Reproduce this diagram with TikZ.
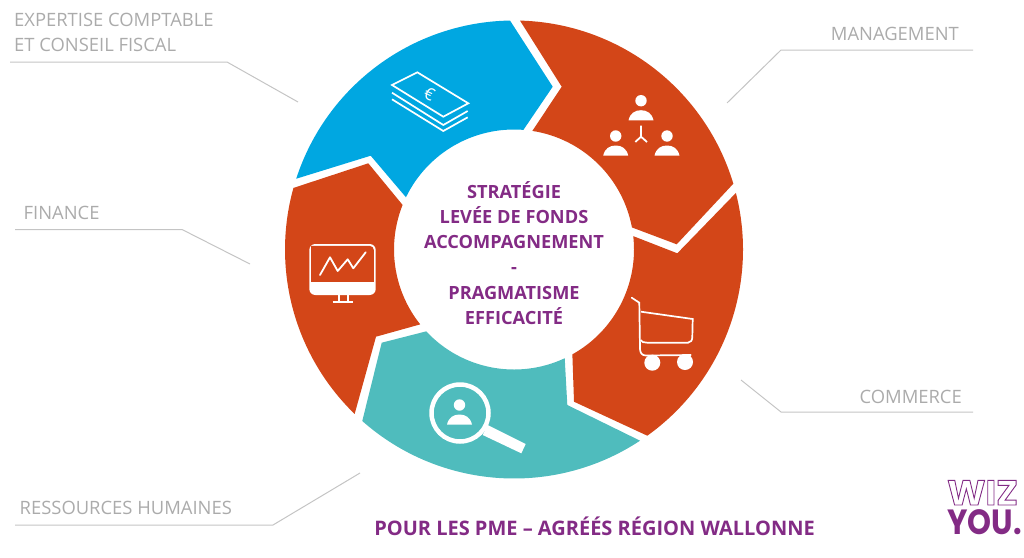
\documentclass[tikz,border=0pt]{standalone}
\usetikzlibrary{calc}
\usepackage{fontspec}
\setmainfont{Open Sans}
\newfontfamily\logofont{Poppins}
\newfontfamily\logofontn{Poppins}[FakeStretch=0.87]
\newfontfamily\logofontw{Poppins}[FakeStretch=1.04]
\definecolor{cblue}{HTML}{00A7E1}
\definecolor{corange}{HTML}{D34618}
\definecolor{cteal}{HTML}{4FBCBD}
\definecolor{cpurple}{HTML}{832B85}
\definecolor{cline}{HTML}{C4C4C4}
\definecolor{ctext}{HTML}{ABABAB}
\tikzset{
  lead/.style={draw=cline,line width=1pt},
  lab/.style={text=ctext,font=\fontsize{18.4}{25}\selectfont,inner sep=0pt,anchor=base west,align=left},
  ico/.style={draw=white,line width=1.7pt,line join=miter},
  persicon/.pic={
    \fill[white] (0,0) circle[radius=5.7pt];
    \fill[white] (-12.5,19.7) .. controls (-11,12.5) and (-6,9.5) .. (0,9.5) .. controls (6,9.5) and (11,12.5) .. (12.5,19.7) -- cycle;
  }
}
\newcommand{\Ro}{229pt}
\newcommand{\Ri}{120pt}
\begin{document}
\begin{tikzpicture}[x=1pt,y=-1pt]
\useasboundingbox (0,0) rectangle (1024,557);
\coordinate (c) at (514,249.5);
% segments
\fill[cblue] ($(c)+(91:\Ro)$) arc[start angle=91,end angle=162,radius=\Ro] -- (370.7,155.7) -- ($(c)+(154.2:\Ri)$) arc[start angle=154.2,end angle=85.5,radius=\Ri] -- (552.7,86.7) -- cycle;
\fill[corange] ($(c)+(88.5:\Ro)$) arc[start angle=88.5,end angle=16.7,radius=\Ro] -- (676.7,244.3) -- ($(c)+(10.6:\Ri)$) arc[start angle=10.6,end angle=81.2,radius=\Ri] -- (561.7,86.7) -- cycle;
\fill[corange] ($(c)+(14.3:\Ro)$) arc[start angle=14.3,end angle=-54.4,radius=\Ro] -- (574,401.7) -- ($(c)+(-60.9:\Ri)$) arc[start angle=-60.9,end angle=6.4,radius=\Ri] -- (677.3,253.3) -- cycle;
\fill[cteal] ($(c)+(-56.6:\Ro)$) arc[start angle=-56.6,end angle=-131.5,radius=\Ro] -- (381.7,342.7) -- ($(c)+(-137:\Ri)$) arc[start angle=-137,end angle=-65,radius=\Ri] -- (567.3,405) -- cycle;
\fill[corange] ($(c)+(164.4:\Ro)$) arc[start angle=164.4,end angle=225.9,radius=\Ro] -- (376,336.7) -- ($(c)+(218.6:\Ri)$) arc[start angle=218.6,end angle=158.2,radius=\Ri] -- (368.3,163.3) -- cycle;
% leaders
\coordinate (e1) at (10,62); \coordinate (e2) at (227,62); \coordinate (e3) at (298,102);
\coordinate (f1) at (15,229.5); \coordinate (f2) at (182,229.5); \coordinate (f3) at (250,264);
\coordinate (r1) at (15,525); \coordinate (r2) at (273,525); \coordinate (r3) at (360,473);
\coordinate (m1) at (973,50); \coordinate (m2) at (781,50); \coordinate (m3) at (727,103);
\coordinate (k1) at (973,412); \coordinate (k2) at (781,412); \coordinate (k3) at (741,380);
\draw[lead] (e1) -- (e2) -- (e3);
\draw[lead] (f1) -- (f2) -- (f3);
\draw[lead] (r1) -- (r2) -- (r3);
\draw[lead] (m1) -- (m2) -- (m3);
\draw[lead] (k1) -- (k2) -- (k3);
% labels
\node[lab] (lexp) at (14,26) {EXPERTISE COMPTABLE};
\node[lab] (lexp2) at (14,51.5) {ET CONSEIL FISCAL};
\node[lab] (lfin) at (23.5,219) {FINANCE};
\node[lab] (lrh) at (19.5,514.3) {RESSOURCES HUMAINES};
\node[lab,anchor=base east] (lman) at (959,40) {MANAGEMENT};
\node[lab,anchor=base east] (lcom) at (962,403.3) {COMMERCE};
% centre
\node[text=cpurple,font=\bfseries\fontsize{18.2}{25.2}\selectfont,align=center,inner sep=0pt] (centre) at (514,253) {STRATÉGIE\\LEVÉE DE FONDS\\ACCOMPAGNEMENT\\-\\PRAGMATISME\\EFFICACITÉ};
\node[text=cpurple,font=\bfseries\fontsize{20}{24}\selectfont,inner sep=0pt,anchor=base] (title) at (594.5,535) {POUR LES PME – AGRÉÉS RÉGION WALLONNE};
% money
\draw[ico] (417.3,72.3) -- (468.3,103.3) -- (443.3,116.7) -- (392,85) -- cycle;
\draw[ico] (392,92.7) -- (443.3,125) -- (467.7,111);
\draw[ico] (392,99.3) -- (443.3,131) -- (467.7,117.3);
\node[text=white,font=\fontsize{17}{17}\selectfont,inner sep=0pt,rotate=-25] (euro) at (429.5,94.5) {€};
% management
\pic at (641,100.7) {persicon};
\pic at (615.7,136) {persicon};
\pic at (667,136) {persicon};
\draw[ico,line width=1.8pt] (641,125.7) -- (641,136.7) -- (635.3,142) (641,136.7) -- (647,142);
% cart
\draw[ico,line cap=round] (631.7,297.7) -- (639.3,302.7) -- (640,349) .. controls (640.2,353) and (642,355.5) .. (646,355.5) -- (690.7,355);
\draw[ico] (641,311.7) -- (692.7,319) -- (692.3,336.7) .. controls (692.3,340) and (691,342.7) .. (688,342.7) -- (647.3,342.7) .. controls (644,342.7) and (641.5,342) .. (640.5,340);
\fill[white] (652.3,362.7) circle[radius=8pt];
\fill[white] (685,362) circle[radius=8pt];
% magnifier
\draw[white,line width=4.5pt] (460,413) circle[radius=28.5pt];
\fill[white] (482.7,435) -- (487.7,425) -- (525.7,444) -- (521.3,453.3) -- cycle;
\pic at (459.5,405) {persicon};
% monitor
\fill[white,rounded corners=6pt] (309.3,244) rectangle (375.7,295);
\fill[corange,rounded corners=4pt] (311.2,245.9) -- (373.8,245.9) -- (373.8,281.7) -- (311.2,281.7) [sharp corners] -- cycle;
\fill[corange] (311.2,272) rectangle (373.8,281.7);
\draw[ico,line width=2pt] (338.7,295) -- (338.7,302) (347.5,295) -- (347.5,302);
\draw[ico] (332.7,302.3) -- (353,302.3);
\draw[ico,line width=1.8pt,line cap=round,line join=round] (320,275) -- (330,257.3) -- (337.7,271) -- (347.7,259.3) -- (353.3,268.3) -- (365.7,252.3);
% logo
\node[text=cpurple,font=\logofontw\bfseries\fontsize{35}{35}\selectfont,inner sep=0pt,anchor=base west] (wiz) at (947,505) {\special{pdf:code 1 Tr 0.9 w 0.51 0.17 0.52 RG}WIZ\special{pdf:code 0 Tr}};
\node[text=cpurple,font=\logofontn\bfseries\fontsize{35}{35}\selectfont,inner sep=0pt,anchor=base west] (you) at (947,534) {YOU.};
\end{tikzpicture}
\end{document}
